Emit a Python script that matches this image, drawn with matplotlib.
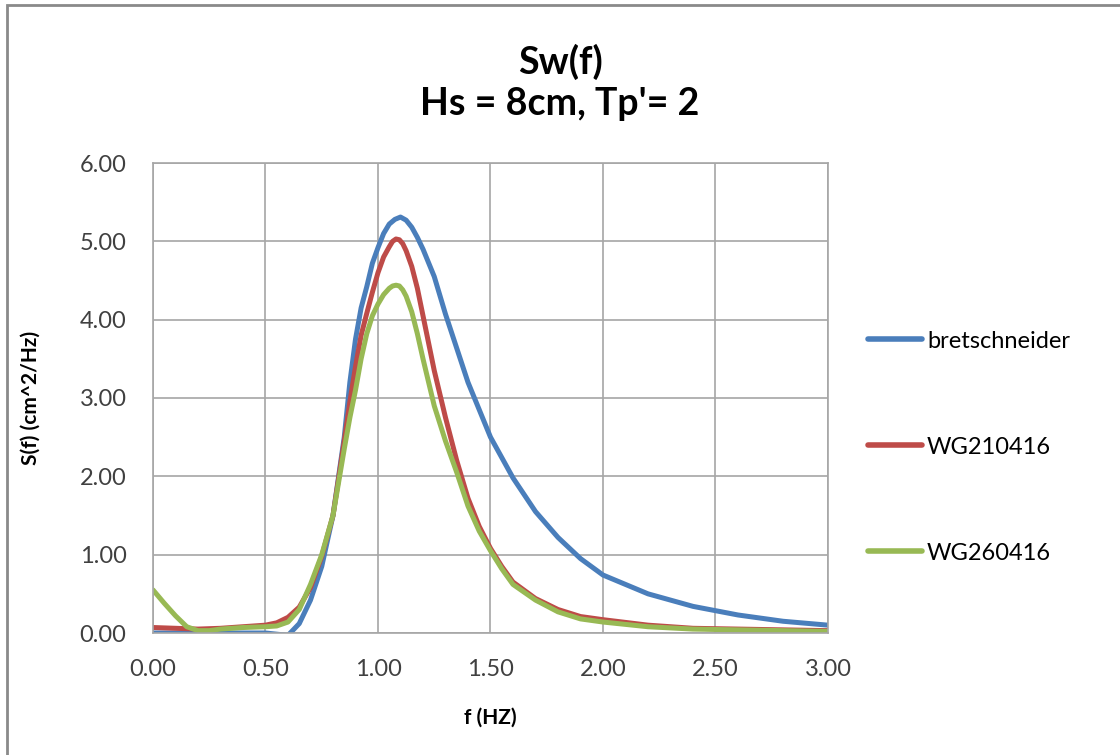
import numpy as np
import matplotlib
matplotlib.use('Agg')
import matplotlib.pyplot as plt
from matplotlib.patches import Rectangle

plt.rcParams['font.family'] = ['Lato', 'DejaVu Sans']

# 数据
f_bret = [0.0, 0.1, 0.2, 0.3, 0.4, 0.5, 0.6, 0.65, 0.7, 0.75, 0.8, 0.85, 0.875, 0.9, 0.925,
          0.95, 0.975, 1.0, 1.025, 1.05, 1.075, 1.1, 1.125, 1.15, 1.175, 1.2, 1.25, 1.3,
          1.4, 1.5, 1.6, 1.7, 1.8, 1.9, 2.0, 2.2, 2.4, 2.6, 2.8, 3.0]
s_bret = [0.0, 0.0, 0.0, 0.0, 0.0, 0.0, -0.03, 0.12, 0.42, 0.85, 1.5, 2.5, 3.2, 3.75, 4.15,
          4.42, 4.72, 4.92, 5.1, 5.22, 5.28, 5.31, 5.27, 5.18, 5.05, 4.9, 4.55, 4.07,
          3.2, 2.5, 1.98, 1.55, 1.22, 0.95, 0.74, 0.5, 0.34, 0.23, 0.15, 0.10]

f_wg21 = [0.0, 0.1, 0.2, 0.3, 0.4, 0.5, 0.55, 0.6, 0.65, 0.7, 0.75, 0.8, 0.85, 0.875, 0.9,
          0.925, 0.95, 0.975, 1.0, 1.025, 1.05, 1.065, 1.08, 1.095, 1.11, 1.125, 1.15, 1.175,
          1.2, 1.25, 1.3, 1.35, 1.4, 1.45, 1.5, 1.55, 1.6, 1.7, 1.8, 1.9, 2.0, 2.2, 2.4,
          2.6, 2.8, 3.0]
s_wg21 = [0.07, 0.06, 0.05, 0.06, 0.08, 0.10, 0.13, 0.20, 0.33, 0.58, 0.98, 1.5, 2.45, 2.95, 3.4,
          3.8, 4.08, 4.35, 4.6, 4.8, 4.93, 5.0, 5.03, 5.02, 4.97, 4.88, 4.68, 4.4,
          4.05, 3.35, 2.75, 2.2, 1.72, 1.36, 1.08, 0.85, 0.65, 0.44, 0.30, 0.21, 0.17, 0.10, 0.06,
          0.05, 0.04, 0.03]

f_wg26 = [0.0, 0.05, 0.1, 0.15, 0.2, 0.25, 0.3, 0.4, 0.5, 0.55, 0.6, 0.65, 0.7, 0.75,
          0.8, 0.85, 0.875, 0.9, 0.925, 0.95, 0.975, 1.0, 1.025, 1.05, 1.065, 1.08, 1.095,
          1.11, 1.125, 1.15, 1.175, 1.2, 1.25, 1.3, 1.35, 1.4, 1.45, 1.5, 1.55, 1.6, 1.7,
          1.8, 1.9, 2.0, 2.2, 2.4, 2.6, 2.8, 3.0]
s_wg26 = [0.55, 0.38, 0.22, 0.08, 0.03, 0.03, 0.05, 0.07, 0.08, 0.09, 0.14, 0.30, 0.62, 1.0,
          1.5, 2.35, 2.75, 3.1, 3.5, 3.82, 4.05, 4.2, 4.32, 4.4, 4.43, 4.44, 4.43,
          4.38, 4.3, 4.1, 3.82, 3.5, 2.9, 2.45, 2.05, 1.62, 1.3, 1.05, 0.82, 0.62, 0.42,
          0.27, 0.18, 0.14, 0.08, 0.05, 0.04, 0.03, 0.02]

labels = ['bretschneider', 'WG210416', 'WG260416']
colors = ['#4A7EBB', '#BE4B48', '#98B954']

fig = plt.figure(figsize=(11.2, 7.55), dpi=100)
ax = fig.add_axes([153 / 1120, 1 - 633 / 755, 675 / 1120, 470 / 755])

# 外框
fig.add_artist(Rectangle((7 / 1120, -0.1), 2, 1 - 5 / 755 + 0.1, transform=fig.transFigure,
                         fill=False, ec='#8a8a8a', lw=2))

for fx, sy, lab, c in zip([f_bret, f_wg21, f_wg26], [s_bret, s_wg21, s_wg26], labels, colors):
    ax.plot(fx, sy, color=c, lw=3.6, label=lab, solid_joinstyle='round', solid_capstyle='round')

ax.set_xlim(0, 3)
ax.set_ylim(0, 6)
ax.set_xticks(np.arange(0, 3.01, 0.5))
ax.set_yticks(np.arange(0, 6.01, 1))
ax.xaxis.set_major_formatter(matplotlib.ticker.FormatStrFormatter('%.2f'))
ax.yaxis.set_major_formatter(matplotlib.ticker.FormatStrFormatter('%.2f'))
ax.grid(True, color='#a6a6a6', lw=1.2)
ax.set_axisbelow(True)
for sp in ax.spines.values():
    sp.set_color('#a6a6a6')
    sp.set_linewidth(1.2)
ax.tick_params(length=0, labelsize=17, colors='#404040')
ax.tick_params(axis='y', pad=19)
ax.tick_params(axis='x', pad=19)

ax.set_xlabel('f (HZ)', fontsize=15, fontweight='bold')
ax.set_ylabel('S(f) (cm^2/Hz)', fontsize=15, fontweight='bold')
ax.xaxis.set_label_coords(0.5, -0.158)
ax.yaxis.set_label_coords(-0.167, 0.5)

fig.text(0.5, 1 - 82 / 755, "Sw(f)\nHs = 8cm, Tp'= 2", ha='center', va='center',
         fontsize=27, fontweight='bold', linespacing=1.25)

leg = ax.legend(loc='center left', bbox_to_anchor=(868 / 1120, 1 - 447 / 755),
                bbox_transform=fig.transFigure, frameon=False, fontsize=17,
                handlelength=2.3, handletextpad=0.2, labelspacing=3.6, borderpad=0,
                borderaxespad=0)
for line in leg.get_lines():
    line.set_linewidth(4)

fig.savefig('out.png', dpi=100)
